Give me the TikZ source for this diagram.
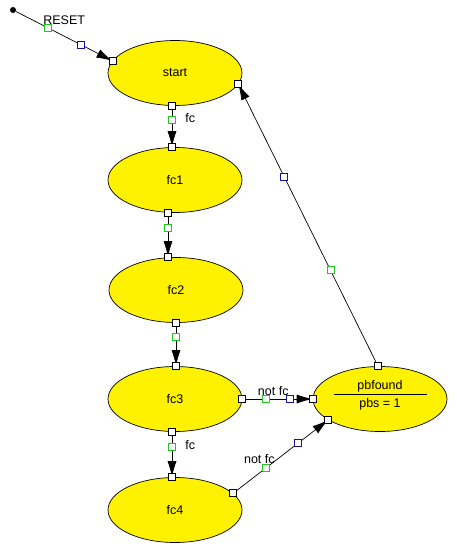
\documentclass[tikz,border=0pt]{standalone}
\usepackage{fontspec}
\setmainfont{Liberation Sans}
\usetikzlibrary{shapes.geometric,arrows.meta}
\definecolor{gripgreen}{RGB}{30,200,30}
\definecolor{gripblue}{RGB}{20,20,160}
\begin{document}
\begin{tikzpicture}[x=1pt,y=-1pt,
  font=\fontsize{12.5}{15}\selectfont,
  state/.style={draw, ellipse, fill=yellow, minimum width=134pt, minimum height=65pt, inner sep=0pt, line width=0.7pt},
  trans/.style={draw, line width=0.7pt, -{Latex[length=16pt,width=9pt]}},
  endgrip/.style={draw=black, fill=white, rectangle, minimum size=7pt, inner sep=0pt, line width=0.8pt},
  greengrip/.style={draw=gripgreen, fill=white, rectangle, minimum size=7pt, inner sep=0pt, line width=0.9pt},
  bluegrip/.style={draw=gripblue, fill=white, rectangle, minimum size=7pt, inner sep=0pt, line width=0.9pt},
  lbl/.style={inner sep=1pt}]
\useasboundingbox (0,0) rectangle (457,555);

\node[circle, fill=black, inner sep=0pt, minimum size=6pt] (init) at (13,10) {};
\node[state] (start) at (175,73) {start};
\node[state] (fc1) at (175,180) {fc1};
\node[state] (fc2) at (176,290) {fc2};
\node[state] (fc3) at (175,399) {fc3};
\node[state] (fc4) at (175,510) {fc4};
\node[state] (pbfound) at (380,399) {};
\node (pbname) at (380,386) {pbfound};
\node (pbout) at (380,404) {pbs = 1};
\draw[line width=0.7pt] (334,394) -- (427,394);

\path[trans] (init) -- node[lbl, pos=.5, above=10pt] {RESET} node[greengrip, pos=.33] {} node[bluegrip, pos=.67] {} (start.169) node[endgrip] {};
\path[trans] ([xshift=-3pt]start.south) node[endgrip] {} -- node[greengrip, pos=.33] {} node[lbl, pos=.3, right=12pt] {fc} ([xshift=-3pt]fc1.north) node[endgrip] {};
\path[trans] ([xshift=-7pt]fc1.south) node[endgrip] {} -- node[greengrip, pos=.33] {} ([xshift=-8pt]fc2.north) node[endgrip] {};
\path[trans] (fc2.south) node[endgrip] {} -- node[greengrip, pos=.33] {} ([xshift=1pt]fc3.north) node[endgrip] {};
\path[trans] ([xshift=-3pt]fc3.south) node[endgrip] {} -- node[greengrip, pos=.33] {} node[lbl, pos=.3, right=12pt] {fc} ([xshift=-3pt]fc4.north) node[endgrip] {};
\path[trans] (fc3.east) node[endgrip] {} -- node[lbl, pos=.44, above=2pt] {not fc} node[greengrip, pos=.34] {} node[bluegrip, pos=.67] {} (pbfound.west) node[endgrip] {};
\path[trans] (fc4.16) node[endgrip] {} -- node[lbl, pos=.35, above=3pt, xshift=-7pt] {not fc} node[greengrip, pos=.35] {} node[bluegrip, pos=.68] {} (pbfound.202) node[endgrip] {};
\path[trans] ([xshift=-2pt]pbfound.north) node[endgrip] {} -- node[greengrip, pos=.34] {} node[bluegrip, pos=.67] {} (start.-10) node[endgrip] {};
\end{tikzpicture}
\end{document}
